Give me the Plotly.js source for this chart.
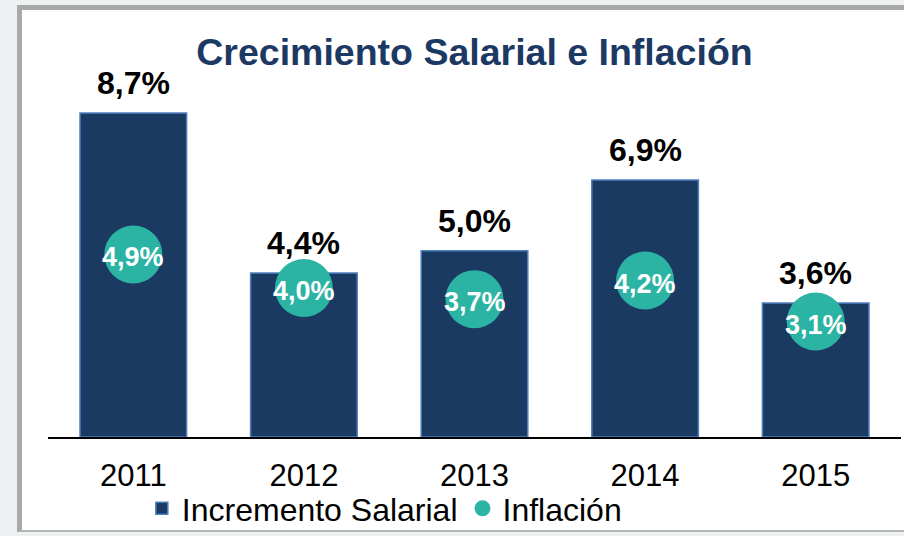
<!DOCTYPE html>
<html>
<head>
<meta charset="utf-8">
<script src="https://cdn.plot.ly/plotly-3.0.1.min.js"></script>
<style>
  html, body { margin: 0; padding: 0; width: 904px; height: 536px; overflow: hidden; background: #eef1f2; font-family: "Liberation Sans", Arial, sans-serif; }
  #frame { position: absolute; left: 17px; top: 5px; width: 900px; height: 527px; background: #ffffff; border-left: 5px solid #a9a9a9; border-top: 5px solid #a9a9a9; border-bottom: 2px solid #b5b5b5; box-sizing: border-box; }
  #chart { position: absolute; left: 0; top: 0; width: 904px; height: 536px; }
</style>
</head>
<body>
<div id="frame"></div>
<div id="chart"></div>
<script>
const years = ["2011", "2012", "2013", "2014", "2015"];
const incrementoSalarial = [8.7, 4.4, 5.0, 6.9, 3.6];
const inflacion = [4.9, 4.0, 3.7, 4.2, 3.1];
const fmt = v => v.toFixed(1).replace(".", ",") + "%";

const FONT = '"Liberation Sans", Arial, sans-serif';
const NAVY = "#1a3a62";
const TEAL = "#2bb3a4";

const traces = [
  {
    type: "bar",
    name: "Incremento Salarial",
    x: years,
    y: incrementoSalarial,
    marker: { color: NAVY, line: { color: "#4f7fc0", width: 1.5 } },
    hoverinfo: "skip"
  },
  {
    type: "scatter",
    mode: "markers",
    name: "Inflación",
    x: years,
    y: inflacion,
    marker: { color: TEAL, size: 58, symbol: "circle" },
    cliponaxis: false,
    hoverinfo: "skip"
  }
];

const barLabels = years.map((yr, i) => ({
  x: i, y: incrementoSalarial[i], xref: "x", yref: "y",
  text: "<b>" + fmt(incrementoSalarial[i]) + "</b>",
  showarrow: false, xanchor: "center", yanchor: "bottom", yshift: 10,
  font: { family: FONT, size: 32, color: "#000000" }
}));

const inflLabels = years.map((yr, i) => ({
  x: i, y: inflacion[i], xref: "x", yref: "y",
  text: "<b>" + fmt(inflacion[i]) + "</b>",
  showarrow: false, xanchor: "center", yanchor: "middle", yshift: -3,
  font: { family: FONT, size: 27, color: "#ffffff" }
}));

const layout = {
  width: 904, height: 536,
  margin: { l: 48, r: 3, t: 60, b: 99, autoexpand: false },
  paper_bgcolor: "rgba(0,0,0,0)",
  plot_bgcolor: "rgba(0,0,0,0)",
  font: { family: FONT, color: "#000000" },
  title: {
    text: "<b>Crecimiento Salarial e Inflación</b>",
    font: { family: FONT, size: 37.5, color: "#1c3963" },
    x: 0.5, xref: "paper", xanchor: "center",
    y: 0.903, yref: "container", yanchor: "middle"
  },
  bargap: 0.375,
  showlegend: true,
  legend: {
    orientation: "h", x: 0.110, xanchor: "left",
    y: 0.0, yref: "container", yanchor: "bottom",
    font: { family: FONT, size: 32, color: "#000000" },
    itemwidth: 30, tracegroupgap: 0, bgcolor: "rgba(0,0,0,0)"
  },
  xaxis: {
    type: "category", range: [-0.5, 4.5], fixedrange: true,
    showline: true, linecolor: "#000000", linewidth: 1.5,
    ticks: "outside", ticklen: 10, tickcolor: "rgba(0,0,0,0)",
    tickfont: { family: FONT, size: 31, color: "#000000" },
    showgrid: false, zeroline: false
  },
  yaxis: {
    range: [0, 10.12], visible: false, fixedrange: true,
    showgrid: false, zeroline: false
  },
  annotations: barLabels.concat(inflLabels)
};

Plotly.newPlot("chart", traces, layout, { displayModeBar: false, staticPlot: true });
</script>
</body>
</html>
